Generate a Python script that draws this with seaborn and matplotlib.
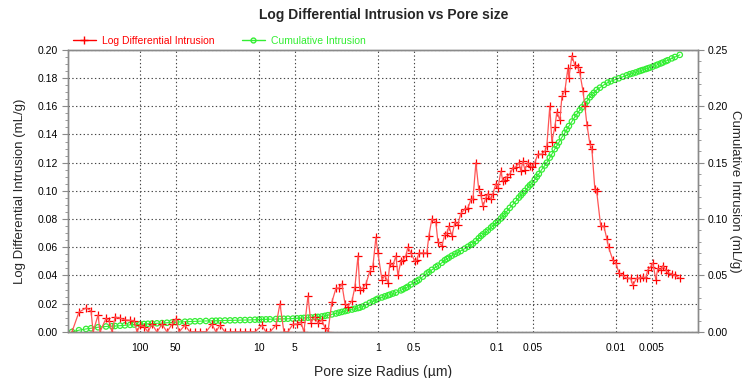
import matplotlib
matplotlib.use("Agg")
import matplotlib.pyplot as plt
from matplotlib.lines import Line2D
from matplotlib.ticker import FixedLocator, MultipleLocator, FuncFormatter, NullLocator
import numpy as np
import pandas as pd
import seaborn as sns

# Log differential intrusion: pore radius (µm) and dV/dlogR (mL/g)
ldi_radius = [373, 326, 284, 258, 248, 225, 217, 193, 182, 172, 162, 147, 134, 121, 112, 106,
              100, 92.5, 85.7, 79.3, 72.0, 65.3, 59.3, 53.8, 49.8, 47.0, 41.9, 38.0, 34.5, 31.3,
              27.9, 24.8, 23.0, 21.3, 19.3, 17.5, 15.9, 14.4, 13.1, 11.9, 10.8, 9.44, 8.73, 8.09,
              7.19, 6.66, 6.17, 5.71, 5.18, 4.80, 4.44, 4.19, 3.87, 3.66, 3.38, 3.19, 2.96, 2.79,
              2.63, 2.44, 2.25, 2.13, 2.01, 1.89, 1.79, 1.65, 1.56, 1.47, 1.42, 1.34, 1.26, 1.17,
              1.10, 1.04, 1.00, 0.925, 0.873, 0.824, 0.793, 0.748, 0.706, 0.679, 0.641, 0.616,
              0.582, 0.560, 0.528, 0.489, 0.470, 0.452, 0.419, 0.388, 0.373, 0.352, 0.326, 0.313,
              0.290, 0.274, 0.263, 0.253, 0.239, 0.225, 0.213, 0.201, 0.186, 0.175, 0.165, 0.159,
              0.150, 0.142, 0.136, 0.131, 0.124, 0.119, 0.112, 0.108, 0.102, 0.0980, 0.0925,
              0.0891, 0.0857, 0.0824, 0.0778, 0.0734, 0.0692, 0.0653, 0.0628, 0.0605, 0.0582,
              0.0549, 0.0528, 0.0508, 0.0480, 0.0452, 0.0419, 0.0395, 0.0380, 0.0359, 0.0345,
              0.0326, 0.0313, 0.0295, 0.0284, 0.0268, 0.0253, 0.0248, 0.0234, 0.0221, 0.0209,
              0.0201, 0.0189, 0.0182, 0.0175, 0.0165, 0.0159, 0.0150, 0.0145, 0.0134, 0.0126,
              0.0119, 0.0115, 0.0106, 0.0100, 0.00944, 0.00873, 0.00809, 0.00750, 0.00720,
              0.00670, 0.00630, 0.00593, 0.00560, 0.00539, 0.00510, 0.00489, 0.00461, 0.00444,
              0.00419, 0.00403, 0.00380, 0.00366, 0.00338, 0.00319, 0.00290]
ldi_value = [0.000, 0.014, 0.017, 0.015, 0.000, 0.012, 0.000, 0.0096, 0.008, 0.000, 0.0106,
             0.0096, 0.0085, 0.0082, 0.0078, 0.000, 0.0047, 0.0038, 0.000, 0.0054, 0.000, 0.0054,
             0.000, 0.0054, 0.0094, 0.000, 0.0047, 0.000, 0.000, 0.000, 0.000, 0.0054, 0.000,
             0.0047, 0.000, 0.000, 0.000, 0.000, 0.000, 0.000, 0.000, 0.0047, 0.000, 0.000,
             0.0047, 0.020, 0.000, 0.000, 0.0054, 0.0054, 0.007, 0.000, 0.0254, 0.0066, 0.0108,
             0.006, 0.0085, 0.003, 0.000, 0.021, 0.031, 0.031, 0.034, 0.020, 0.018, 0.022, 0.032,
             0.054, 0.030, 0.031, 0.034, 0.043, 0.047, 0.067, 0.056, 0.037, 0.040, 0.035, 0.049,
             0.047, 0.054, 0.040, 0.050, 0.051, 0.054, 0.060, 0.056, 0.050, 0.051, 0.056, 0.056,
             0.056, 0.068, 0.080, 0.078, 0.064, 0.061, 0.069, 0.070, 0.075, 0.068, 0.078, 0.076,
             0.084, 0.087, 0.088, 0.094, 0.094, 0.120, 0.101, 0.097, 0.089, 0.095, 0.098, 0.094,
             0.098, 0.105, 0.102, 0.114, 0.107, 0.108, 0.110, 0.112, 0.116, 0.117, 0.120, 0.114,
             0.121, 0.115, 0.120, 0.118, 0.117, 0.120, 0.126, 0.126, 0.128, 0.132, 0.160, 0.135,
             0.145, 0.156, 0.150, 0.167, 0.171, 0.187, 0.180, 0.196, 0.189, 0.188, 0.184, 0.171,
             0.160, 0.147, 0.133, 0.130, 0.101, 0.100, 0.075, 0.075, 0.066, 0.060, 0.051, 0.049,
             0.042, 0.040, 0.038, 0.038, 0.033, 0.038, 0.038, 0.039, 0.038, 0.044, 0.046, 0.049,
             0.037, 0.045, 0.044, 0.047, 0.044, 0.042, 0.041, 0.040, 0.038]

# Cumulative intrusion: pore radius (µm) and volume (mL/g)
cum_radius = [373, 326, 284, 258, 225, 193, 172, 162, 147, 134, 121, 112, 100, 92.5, 85.7, 79.3,
              72.0, 65.3, 59.3, 53.8, 49.8, 47.0, 41.9, 38.0, 34.5, 31.3, 27.9, 24.8, 23.0, 21.3,
              19.3, 17.5, 15.9, 14.4, 13.1, 11.9, 10.8, 10.0, 9.44, 8.73, 8.09, 7.19, 6.66, 6.17,
              5.71, 5.18, 4.80, 4.44, 4.19, 3.87, 3.66, 3.38, 3.19, 2.96, 2.79, 2.63, 2.44, 2.25,
              2.13, 2.01, 1.89, 1.79, 1.65, 1.56, 1.47, 1.42, 1.34, 1.26, 1.17, 1.10, 1.04, 1.00,
              0.925, 0.873, 0.824, 0.793, 0.748, 0.706, 0.641, 0.616, 0.582, 0.560, 0.528, 0.489,
              0.470, 0.452, 0.419, 0.388, 0.373, 0.352, 0.326, 0.313, 0.290, 0.274, 0.263, 0.253,
              0.239, 0.225, 0.213, 0.201, 0.186, 0.175, 0.165, 0.159, 0.150, 0.142, 0.136, 0.131,
              0.124, 0.119, 0.112, 0.108, 0.102, 0.0980, 0.0925, 0.0891, 0.0857, 0.0824, 0.0778,
              0.0734, 0.0692, 0.0653, 0.0628, 0.0605, 0.0582, 0.0549, 0.0528, 0.0508, 0.0480,
              0.0461, 0.0444, 0.0419, 0.0395, 0.0380, 0.0359, 0.0345, 0.0326, 0.0313, 0.0301,
              0.0284, 0.0268, 0.0258, 0.0248, 0.0234, 0.0221, 0.0213, 0.0201, 0.0193, 0.0182,
              0.0175, 0.0165, 0.0159, 0.0153, 0.0145, 0.0136, 0.0126, 0.0117, 0.0110, 0.0102,
              0.00944, 0.00873, 0.00809, 0.00763, 0.00720, 0.00680, 0.00641, 0.00617, 0.00593,
              0.00560, 0.00539, 0.00518, 0.00489, 0.00461, 0.00444, 0.00419, 0.00403, 0.00380,
              0.00366, 0.00338, 0.00319, 0.00290]
cum_value = [0.0000, 0.0015, 0.0026, 0.0032, 0.0041, 0.0048, 0.0050, 0.0052, 0.0055, 0.0058,
             0.0062, 0.0065, 0.0068, 0.0070, 0.0072, 0.0074, 0.0076, 0.0078, 0.0081, 0.0084,
             0.0087, 0.0088, 0.0090, 0.0092, 0.0094, 0.0095, 0.0097, 0.0098, 0.0099, 0.0100,
             0.0101, 0.0102, 0.0103, 0.0104, 0.0105, 0.0106, 0.0108, 0.0109, 0.0110, 0.0111,
             0.0112, 0.0114, 0.0115, 0.0116, 0.0117, 0.0118, 0.0120, 0.0122, 0.0124, 0.0126,
             0.0128, 0.0131, 0.0133, 0.0137, 0.0142, 0.0148, 0.0155, 0.0163, 0.0170, 0.0177,
             0.0184, 0.0190, 0.0198, 0.0205, 0.0211, 0.0215, 0.0225, 0.0240, 0.0258, 0.0272,
             0.0285, 0.0294, 0.0305, 0.0315, 0.0324, 0.0330, 0.0340, 0.0348, 0.0368, 0.0377,
             0.0390, 0.0400, 0.0420, 0.0440, 0.0450, 0.0462, 0.0490, 0.0518, 0.0530, 0.0550,
             0.0575, 0.0587, 0.0613, 0.0635, 0.0647, 0.0658, 0.0675, 0.0690, 0.0703, 0.0717,
             0.0738, 0.0755, 0.0772, 0.0782, 0.0805, 0.0830, 0.0850, 0.0865, 0.0885, 0.0900,
             0.0925, 0.0940, 0.0965, 0.0980, 0.1005, 0.1025, 0.1045, 0.1070, 0.1100, 0.1130,
             0.1160, 0.1190, 0.1210, 0.1230, 0.1250, 0.1280, 0.1300, 0.1315, 0.1350, 0.1375,
             0.1400, 0.1440, 0.1475, 0.1500, 0.1545, 0.1575, 0.1620, 0.1650, 0.1680, 0.1725,
             0.1765, 0.1795, 0.1825, 0.1865, 0.1905, 0.1930, 0.1965, 0.1990, 0.2020, 0.2045,
             0.2080, 0.2100, 0.2120, 0.2145, 0.2165, 0.2190, 0.2210, 0.2222, 0.2235, 0.2248,
             0.2262, 0.2275, 0.2285, 0.2292, 0.2300, 0.2310, 0.2316, 0.2322, 0.2330, 0.2336,
             0.2342, 0.2352, 0.2362, 0.2370, 0.2380, 0.2388, 0.2400, 0.2408, 0.2425, 0.2437,
             0.2456]

x_ticks = [100, 50, 10, 5, 1, 0.5, 0.1, 0.05, 0.01, 0.005]
x_tick_labels = ["100", "50", "10", "5", "1", "0.5", "0.1", "0.05", "0.01", "0.005"]

RED = "#ff0000"
GREEN = "#33ee33"
AXIS_GREY = "#8a8a8a"

sns.set_style("white")
plt.rcParams["font.family"] = ["Liberation Sans", "DejaVu Sans"]

ldi = pd.DataFrame({"radius": ldi_radius, "value": ldi_value})
cum = pd.DataFrame({"radius": cum_radius, "value": cum_value})

fig = plt.figure(figsize=(7.47, 3.78), dpi=100)
ax = fig.add_axes([0.091, 0.122, 0.843, 0.746])
ax2 = ax.twinx()

# cumulative curve on the right axis
sns.lineplot(data=cum, x="radius", y="value", ax=ax2, color=GREEN, lw=0.8,
             estimator=None, sort=False, legend=False)
sns.scatterplot(data=cum, x="radius", y="value", ax=ax2, marker="o", s=15,
                facecolor="none", edgecolor=GREEN, linewidth=0.9, legend=False)

# log differential curve on the left axis, drawn above the cumulative one
ax.set_zorder(ax2.get_zorder() + 1)
ax.patch.set_visible(False)
sns.lineplot(data=ldi, x="radius", y="value", ax=ax, color="#ff5555", lw=0.9,
             estimator=None, sort=False, legend=False)
sns.scatterplot(data=ldi, x="radius", y="value", ax=ax, marker="+", s=26,
                color=RED, linewidth=0.9, legend=False)

for a in (ax, ax2):
    a.set_xscale("log")
    a.set_xlim(403, 0.00205)
ax.set_ylim(0, 0.20)
ax2.set_ylim(0, 0.25)

ax.xaxis.set_major_locator(FixedLocator(x_ticks))
ax.xaxis.set_minor_locator(NullLocator())
ax.set_xticklabels(x_tick_labels)
ax.yaxis.set_major_locator(MultipleLocator(0.02))
ax.yaxis.set_minor_locator(MultipleLocator(0.005))
ax.yaxis.set_major_formatter(FuncFormatter(lambda v, p: f"{v:.2f}"))
ax2.yaxis.set_major_locator(MultipleLocator(0.05))
ax2.yaxis.set_minor_locator(MultipleLocator(0.01))
ax2.yaxis.set_major_formatter(FuncFormatter(lambda v, p: f"{v:.2f}"))

ax.grid(True, which="major", color="#444444", linestyle=(0, (1.2, 2.2)), linewidth=0.8)
ax2.grid(False)

for a in (ax, ax2):
    for s in a.spines.values():
        s.set_color(AXIS_GREY)
        s.set_linewidth(1.0)
    a.tick_params(which="both", colors=AXIS_GREY, labelcolor="black", labelsize=7.5, direction="out")
    a.tick_params(which="major", length=4)
    a.tick_params(which="minor", length=2)
ax.tick_params(axis="x", length=3, pad=5)

ax.set_xlabel("Pore size Radius (µm)", fontsize=10, labelpad=9)
ax.set_ylabel("Log Differential Intrusion (mL/g)", fontsize=9.5, labelpad=8)
ax2.set_ylabel("Cumulative Intrusion (mL/g)", fontsize=9.5, rotation=-90, labelpad=9)

fig.text(0.513, 0.96, "Log Differential Intrusion vs Pore size", ha="center", va="center",
         fontsize=10, fontweight="bold")

handles = [
    Line2D([], [], color=RED, lw=1, marker="+", markersize=6, markeredgewidth=1),
    Line2D([], [], color=GREEN, lw=1, marker="o", markersize=3.5, markerfacecolor="none",
           markeredgewidth=1),
]
fig.legend(handles, ["Log Differential Intrusion", "Cumulative Intrusion"],
           loc="center left", bbox_to_anchor=(0.085, 0.892), ncol=2, frameon=False,
           fontsize=7.5, labelcolor=[RED, GREEN], handlelength=2.2, handletextpad=0.6,
           columnspacing=2.6)

fig.savefig("out.png", dpi=100)
